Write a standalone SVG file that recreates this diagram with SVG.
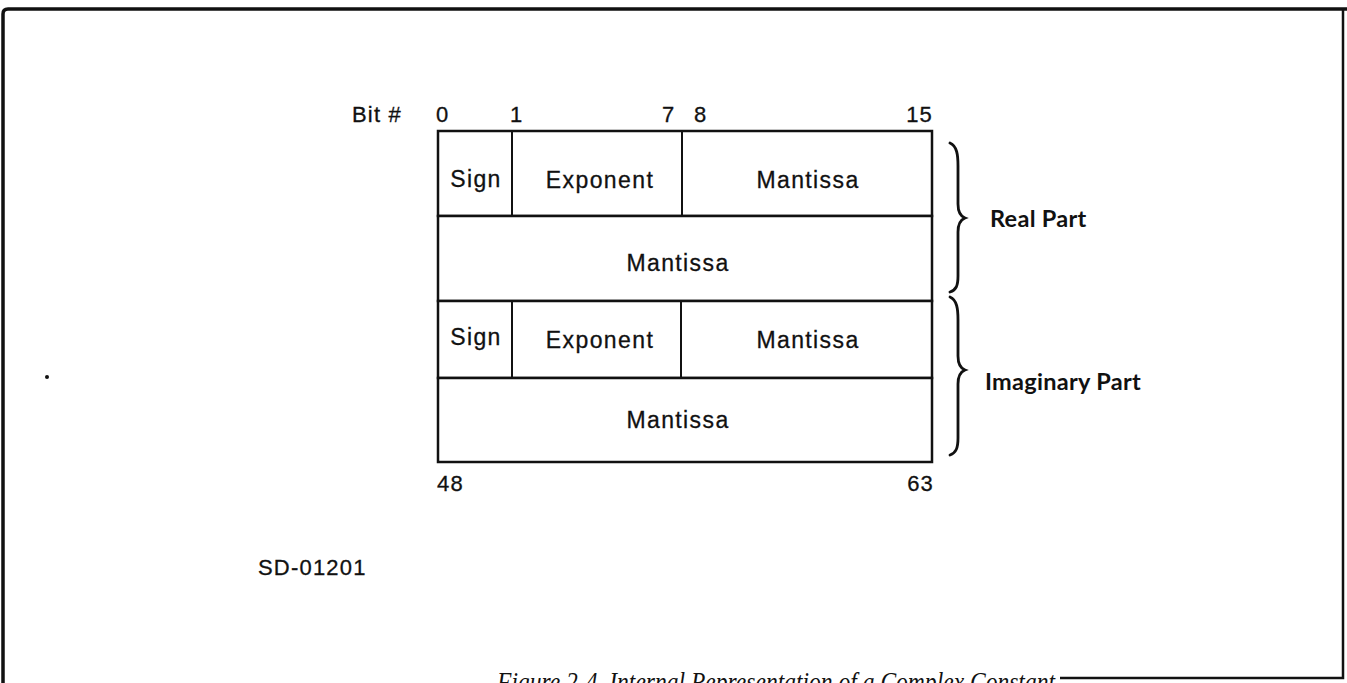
<svg xmlns="http://www.w3.org/2000/svg" width="1347" height="683" viewBox="0 0 1347 683">
  <style>
    .lbl { font-family: "Liberation Sans", Arial, sans-serif; font-size: 23px; fill: #111; stroke: #111; stroke-width: 0.3; letter-spacing: 1.4px; }
    .num { font-family: "Liberation Sans", Arial, sans-serif; font-size: 22px; fill: #111; stroke: #111; stroke-width: 0.3; letter-spacing: 1.2px; }
    .part { font-family: Lato, "Open Sans", sans-serif; font-weight: bold; font-size: 23.5px; fill: #111; letter-spacing: 0.3px; }
    .cell { fill: #fff; stroke: #111; stroke-width: 2.5; }
    .div { stroke: #111; stroke-width: 2; fill: none; }
    .brace { fill: none; stroke: #111; stroke-width: 2.8; stroke-linecap: round; }
    .frame { fill: none; stroke: #111; stroke-width: 3.5; }
  </style>

  <rect width="1347" height="683" fill="#fff"/>

  <!-- page frame -->
  <g id="frame">
    <path class="frame" d="M3,683 L3,14 Q3,9 8,9 L1347,9"/>
    <path d="M1343,9 L1343,678 L1060,678" fill="none" stroke="#111" stroke-width="2.5"/>
    <circle cx="47" cy="377" r="2" fill="#111"/>
  </g>

  <!-- bit numbering -->
  <g id="bit-numbers">
    <text class="num" x="352" y="122">Bit #</text>
    <text class="num" x="436" y="122">0</text>
    <text class="num" x="510" y="122">1</text>
    <text class="num" x="662" y="122">7</text>
    <text class="num" x="694" y="122">8</text>
    <text class="num" x="933" y="122" text-anchor="end">15</text>
    <text class="num" x="437" y="491">48</text>
    <text class="num" x="934" y="491" text-anchor="end">63</text>
  </g>

  <!-- word 1: sign / exponent / mantissa -->
  <g id="real-word1">
    <rect class="cell" x="438" y="131" width="494" height="85"/>
    <line class="div" x1="512" y1="131" x2="512" y2="216"/>
    <line class="div" x1="682" y1="131" x2="682" y2="216"/>
    <text class="lbl" x="476" y="187" text-anchor="middle">Sign</text>
    <text class="lbl" x="600" y="188" text-anchor="middle">Exponent</text>
    <text class="lbl" x="808" y="188" text-anchor="middle">Mantissa</text>
  </g>

  <!-- word 2: mantissa -->
  <g id="real-word2">
    <rect class="cell" x="438" y="216" width="494" height="85"/>
    <text class="lbl" x="678" y="271" text-anchor="middle">Mantissa</text>
  </g>

  <!-- word 3: sign / exponent / mantissa -->
  <g id="imag-word1">
    <rect class="cell" x="438" y="301" width="494" height="77"/>
    <line class="div" x1="512" y1="301" x2="512" y2="378"/>
    <line class="div" x1="681" y1="301" x2="681" y2="378"/>
    <text class="lbl" x="476" y="345" text-anchor="middle">Sign</text>
    <text class="lbl" x="600" y="348" text-anchor="middle">Exponent</text>
    <text class="lbl" x="808" y="348" text-anchor="middle">Mantissa</text>
  </g>

  <!-- word 4: mantissa -->
  <g id="imag-word2">
    <rect class="cell" x="438" y="378" width="494" height="84"/>
    <text class="lbl" x="678" y="428" text-anchor="middle">Mantissa</text>
  </g>

  <!-- braces and part labels -->
  <g id="real-part">
    <path class="brace" d="M950,143 C957,146 958,155 958,166 L958,204 C958,212 960,216 965,218 C960,220 958,224 958,232 L958,276 C958,286 956,290 950,292"/>
    <text class="part" x="990" y="227">Real Part</text>
  </g>
  <g id="imaginary-part">
    <path class="brace" d="M950,297 C957,300 958,309 958,320 L958,356 C958,364 960,368 965,370 C960,372 958,376 958,384 L958,438 C958,448 956,453 950,455"/>
    <text class="part" x="985" y="390">Imaginary Part</text>
  </g>

  <!-- drawing number -->
  <text class="num" x="258" y="575" font-size="19" letter-spacing="1.3">SD-01201</text>

  <!-- figure caption (runs off the lower edge) -->
  <text x="497" y="691" font-family="'Liberation Serif', 'Times New Roman', serif" font-style="italic" font-size="27" fill="#111" textLength="558" lengthAdjust="spacingAndGlyphs">Figure 2-4.  Internal Representation of a Complex Constant</text>
</svg>
